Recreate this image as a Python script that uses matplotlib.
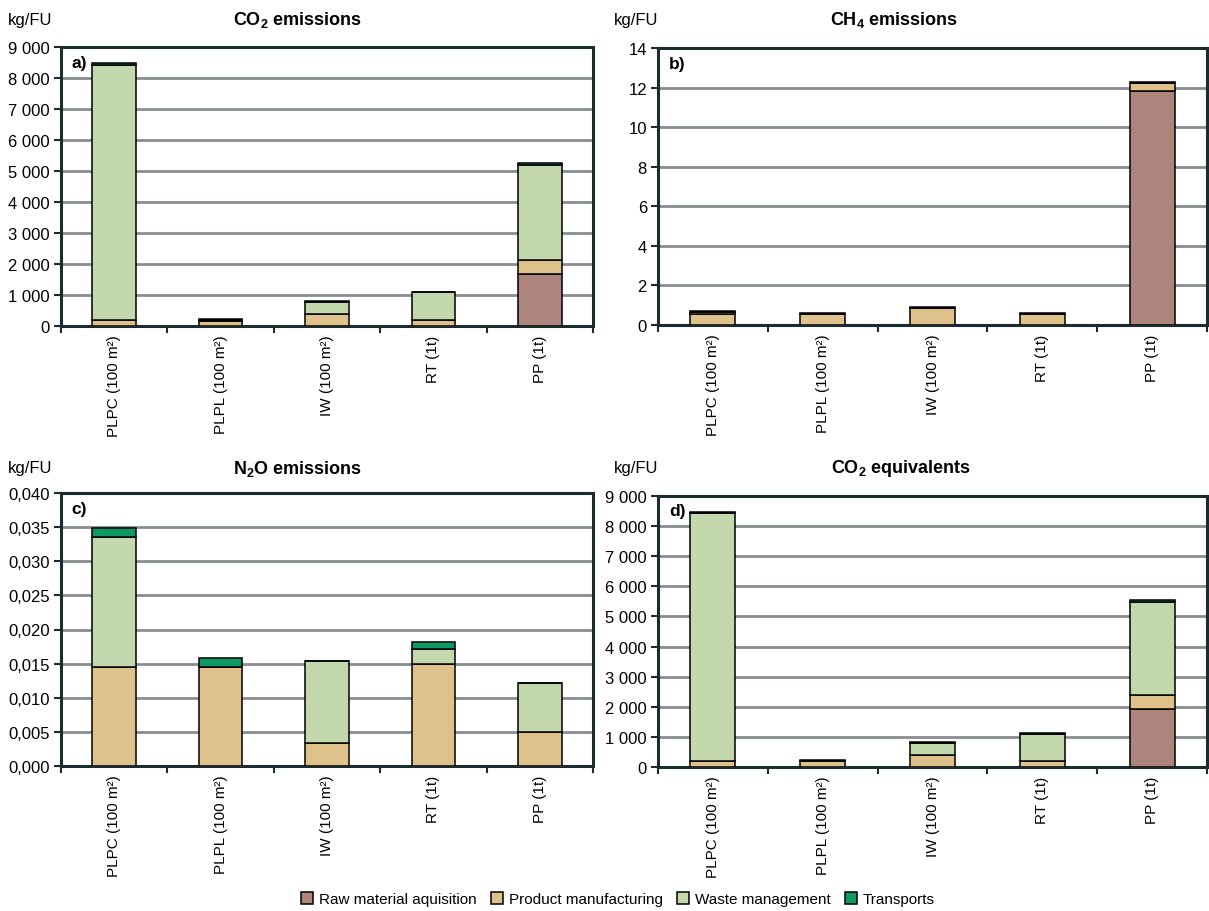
import matplotlib
matplotlib.use("Agg")
import matplotlib.pyplot as plt
import numpy as np
from matplotlib.ticker import FuncFormatter, MultipleLocator, FixedLocator
from matplotlib.patches import Patch

plt.rcParams["font.family"] = ["Liberation Sans", "DejaVu Sans"]
plt.rcParams["mathtext.fontset"] = "custom"
plt.rcParams["mathtext.rm"] = "Liberation Sans:bold"
plt.rcParams["mathtext.default"] = "rm"

categories = ["PLPC (100 m²)", "PLPL (100 m²)", "IW (100 m²)", "RT (1t)", "PP (1t)"]
stages = ["Raw material aquisition", "Product manufacturing", "Waste management", "Transports"]
colors = ["#AD857C", "#DFC18B", "#C3D9AD", "#0E9A62"]

# a) CO2 emissions (kg/FU)
co2_raw = [0, 0, 0, 0, 1690]
co2_manuf = [185, 170, 375, 180, 440]
co2_waste = [8250, 20, 385, 905, 3060]
co2_transp = [50, 30, 45, 15, 75]

# b) CH4 emissions
ch4_raw = [0, 0, 0, 0, 11.82]
ch4_manuf = [0.56, 0.57, 0.84, 0.57, 0.42]
ch4_waste = [0.08, 0, 0, 0, 0]
ch4_transp = [0.05, 0.02, 0.08, 0.06, 0.05]

# c) N2O emissions
n2o_raw = [0, 0, 0, 0, 0]
n2o_manuf = [0.0145, 0.0145, 0.0033, 0.0150, 0.0050]
n2o_waste = [0.0191, 0, 0.0121, 0.0021, 0.0071]
n2o_transp = [0.0013, 0.0013, 0, 0.0010, 0]

# d) CO2 equivalents
eq_raw = [0, 0, 0, 0, 1930]
eq_manuf = [190, 190, 385, 190, 465]
eq_waste = [8235, 15, 400, 905, 3070]
eq_transp = [55, 40, 45, 30, 65]

W, H = 1209, 912
fig = plt.figure(figsize=(W / 100, H / 100), dpi=100)

FRAME = "#1B2B30"
GRID = "#878D92"


def px_axes(left, right, top, bottom):
    return fig.add_axes([left / W, 1 - bottom / H, (right - left) / W, (bottom - top) / H])


def thousands(v, pos):
    return f"{int(round(v)):,}".replace(",", " ")


def comma3(v, pos):
    return f"{v:.3f}".replace(".", ",")


def intfmt(v, pos):
    return f"{int(round(v))}"


panels = [
    dict(box=(61, 593, 48, 327), data=(co2_raw, co2_manuf, co2_waste, co2_transp), ymax=9000, step=1000,
         fmt=thousands, tag="a)", title="CO$_2$ emissions", tx=297, ty=20, ux=8),
    dict(box=(658, 1207, 49, 326), data=(ch4_raw, ch4_manuf, ch4_waste, ch4_transp), ymax=14, step=2,
         fmt=intfmt, tag="b)", title="CH$_4$ emissions", tx=894, ty=20, ux=614),
    dict(box=(61, 593, 494, 767), data=(n2o_raw, n2o_manuf, n2o_waste, n2o_transp), ymax=0.040, step=0.005,
         fmt=comma3, tag="c)", title="N$_2$O emissions", tx=297, ty=469, ux=8),
    dict(box=(658, 1207, 497, 768), data=(eq_raw, eq_manuf, eq_waste, eq_transp), ymax=9000, step=1000,
         fmt=thousands, tag="d)", title="CO$_2$ equivalents", tx=901, ty=469, ux=614),
]

x = np.arange(len(categories))
for p in panels:
    ax = px_axes(*p["box"])
    bottom = np.zeros(len(categories))
    for vals, col in zip(p["data"], colors):
        vals = np.array(vals, dtype=float)
        ax.bar(x, vals, width=0.41, bottom=bottom, color=col, edgecolor="black", linewidth=1.1, zorder=3)
        bottom += vals
    ax.set_xlim(-0.5, len(categories) - 0.5)
    ax.set_ylim(0, p["ymax"])
    ax.yaxis.set_major_locator(MultipleLocator(p["step"]))
    ax.yaxis.set_major_formatter(FuncFormatter(p["fmt"]))
    ax.grid(axis="y", color=GRID, linewidth=2.0, zorder=0)
    ax.set_axisbelow(True)
    for s in ax.spines.values():
        s.set_color(FRAME)
        s.set_linewidth(2.2)
    ax.set_xticks(x)
    ax.set_xticklabels(categories, rotation=90, fontsize=11)
    ax.tick_params(axis="x", which="major", length=0, pad=6)
    ax.xaxis.set_minor_locator(FixedLocator(np.arange(-0.5, len(categories), 1.0)))
    ax.tick_params(axis="x", which="minor", length=5, width=1.5, color=FRAME, direction="out")
    ax.tick_params(axis="y", length=5, width=1.5, color=FRAME, direction="out", pad=3, labelsize=12)
    ax.text(0.02, 0.945, p["tag"], transform=ax.transAxes, fontsize=12.5, fontweight="bold",
            ha="left", va="center", zorder=5)
    fig.text(p["tx"] / W, 1 - p["ty"] / H, p["title"], fontsize=13, fontweight="bold",
             ha="center", va="center")
    fig.text(p["ux"] / W, 1 - p["ty"] / H, "kg/FU", fontsize=12, ha="left", va="center")

handles = [Patch(facecolor=c, edgecolor="black", linewidth=1.1) for c in colors]
leg = fig.legend(handles, stages, loc="center", bbox_to_anchor=(618 / W, 1 - 900 / H), ncol=4,
                 frameon=False, handlelength=0.8, handleheight=0.8, handletextpad=0.4,
                 columnspacing=0.9, prop={"size": 11})

fig.savefig("out.png", dpi=100)
